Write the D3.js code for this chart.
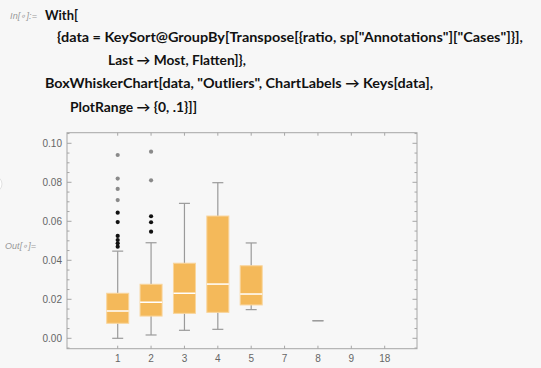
<!DOCTYPE html>
<html>
<head>
<meta charset="utf-8">
<script src="https://cdn.jsdelivr.net/npm/d3@7"></script>
<style>
  html, body { margin: 0; padding: 0; background: #f7f7f7; }
  svg { display: block; }
</style>
</head>
<body>
<div id="chart"></div>
<script>
// input cell text
const codeLines = [
    { text: 'With[', x: 45, y: 20, w: 33 },
    { text: '{data = KeySort@GroupBy[Transpose[{ratio, sp["Annotations"]["Cases"]}],', x: 57, y: 42, w: 466 },
    { text: 'Last \u2192 Most, Flatten]},', x: 108, y: 65, w: 138 },
    { text: 'BoxWhiskerChart[data, "Outliers", ChartLabels \u2192 Keys[data],', x: 45, y: 88, w: 388 },
    { text: 'PlotRange \u2192 {0, .1}]]', x: 70, y: 112, w: 127 }
]

// chart data
const categories = ['1', '2', '3', '4', '5', '7', '8', '9', '18']
const whiskerLow  = [0.0,    0.0017, 0.0041, 0.0046, 0.0147, null, 0.009, null, null]
const q1          = [0.0077, 0.0114, 0.0128, 0.0133, 0.0171, null, 0.009, null, null]
const medians     = [0.0140, 0.0185, 0.0231, 0.0278, 0.0227, null, 0.009, null, null]
const q3          = [0.0231, 0.0277, 0.0385, 0.0627, 0.0372, null, 0.009, null, null]
const whiskerHigh = [0.0447, 0.0490, 0.0692, 0.0798, 0.0489, null, 0.009, null, null]
const nearOutliers = [
    [0.0644, 0.0596, 0.0525, 0.0504, 0.0487, 0.0470],
    [0.0626, 0.0595, 0.0547],
    [], [], [], [], [], [], []
]
const farOutliers = [
    [0.0940, 0.0819, 0.0766, 0.0709],
    [0.0957, 0.0810],
    [], [], [], [], [], [], []
]
const yTicks = [0, 0.02, 0.04, 0.06, 0.08, 0.10]

const width = 541
const height = 368

// frame edges
const frame = { left: 67, right: 417, top: 132.7, bottom: 348.7 }

const boxWidth = 22
const capWidth = 11

const svg = d3.select('#chart')
    .append('svg')
        .attr('width', width)
        .attr('height', height)

svg.append('rect')
    .attr('width', width)
    .attr('height', height)
    .attr('fill', '#f7f7f7')

// cell labels
svg.append('text')
    .attr('x', 10).attr('y', 19)
    .attr('font-family', 'Liberation Sans, sans-serif')
    .attr('font-style', 'italic')
    .attr('font-size', 9)
    .attr('textLength', 27)
    .attr('fill', '#999')
    .text('In[\u2218]:=')

svg.append('text')
    .attr('x', 5).attr('y', 249)
    .attr('font-family', 'Liberation Sans, sans-serif')
    .attr('font-style', 'italic')
    .attr('font-size', 9)
    .attr('textLength', 31)
    .attr('fill', '#999')
    .text('Out[\u2218]=')

// little bubble sticking in from the left edge
svg.append('circle')
    .attr('cx', -6).attr('cy', 184).attr('r', 8)
    .attr('fill', '#fff')
    .attr('stroke', '#e2e2e2')

svg.append('g')
    .selectAll('text')
    .data(codeLines)
    .enter()
    .append('text')
        .attr('x', d => d.x)
        .attr('y', d => d.y)
        .attr('textLength', d => d.w)
        .attr('lengthAdjust', 'spacingAndGlyphs')
        .attr('font-family', 'Lato, Open Sans, sans-serif')
        .attr('font-weight', 'bold')
        .attr('font-size', 13.5)
        .attr('fill', '#111')
        .text(d => d.text)

// scales
const xScale = d3.scalePoint()
    .domain(categories)
    .range([117.7, 384.7])

const yScale = d3.scaleLinear()
    .domain([0, 0.1])
    .range([338.3, 143.3])

const g = svg.append('g')

// frame
g.append('rect')
    .attr('x', frame.left)
    .attr('y', frame.top)
    .attr('width', frame.right - frame.left)
    .attr('height', frame.bottom - frame.top)
    .attr('fill', 'none')
    .attr('stroke', '#a6a6a6')
    .attr('stroke-width', 1)

// y ticks, major + minor, on both sides
const minorTicks = d3.range(-0.005, 0.1051, 0.005).filter(v => Math.abs(Math.round(v * 1000) % 20) !== 0)

const tickLines = [
    ...yTicks.map(v => ({ v, len: 4.5 })),
    ...minorTicks.map(v => ({ v, len: 2.5 }))
]

g.selectAll('.ytick-left')
    .data(tickLines)
    .enter()
    .append('line')
        .attr('x1', frame.left)
        .attr('x2', d => frame.left + d.len)
        .attr('y1', d => yScale(d.v))
        .attr('y2', d => yScale(d.v))
        .attr('stroke', '#a6a6a6')

g.selectAll('.ytick-right')
    .data(tickLines)
    .enter()
    .append('line')
        .attr('x1', frame.right)
        .attr('x2', d => frame.right - d.len)
        .attr('y1', d => yScale(d.v))
        .attr('y2', d => yScale(d.v))
        .attr('stroke', '#a6a6a6')

g.selectAll('.ylabel')
    .data(yTicks)
    .enter()
    .append('text')
        .attr('x', frame.left - 5)
        .attr('y', d => yScale(d) + 3.5)
        .attr('text-anchor', 'end')
        .attr('font-family', 'Liberation Sans, sans-serif')
        .attr('font-size', 10)
        .attr('fill', '#666')
        .text(d => d3.format('.2f')(d))

// x ticks top and bottom
g.selectAll('.xtick-bottom')
    .data(categories)
    .enter()
    .append('line')
        .attr('x1', d => xScale(d))
        .attr('x2', d => xScale(d))
        .attr('y1', frame.bottom)
        .attr('y2', frame.bottom - 3)
        .attr('stroke', '#a6a6a6')

g.selectAll('.xtick-top')
    .data(categories)
    .enter()
    .append('line')
        .attr('x1', d => xScale(d))
        .attr('x2', d => xScale(d))
        .attr('y1', frame.top)
        .attr('y2', frame.top + 3)
        .attr('stroke', '#a6a6a6')

g.selectAll('.xlabel')
    .data(categories)
    .enter()
    .append('text')
        .attr('x', d => xScale(d))
        .attr('y', 362)
        .attr('text-anchor', 'middle')
        .attr('font-family', 'Liberation Sans, sans-serif')
        .attr('font-size', 10)
        .attr('fill', '#666')
        .text(d => d)

// boxes
const boxes = categories.map((c, i) => ({
    c,
    lo: whiskerLow[i], q1: q1[i], med: medians[i], q3: q3[i], hi: whiskerHigh[i],
    near: nearOutliers[i], far: farOutliers[i]
})).filter(d => d.lo !== null)

const boxG = g.selectAll('.box')
    .data(boxes)
    .enter()
    .append('g')
        .attr('class', 'box')

const whiskerColor = '#9a9a9a'

// whisker stems
boxG.append('line')
    .attr('x1', d => xScale(d.c)).attr('x2', d => xScale(d.c))
    .attr('y1', d => yScale(d.lo)).attr('y2', d => yScale(d.q1))
    .attr('stroke', whiskerColor).attr('stroke-width', 1.2)
boxG.append('line')
    .attr('x1', d => xScale(d.c)).attr('x2', d => xScale(d.c))
    .attr('y1', d => yScale(d.q3)).attr('y2', d => yScale(d.hi))
    .attr('stroke', whiskerColor).attr('stroke-width', 1.2)

// caps
boxG.append('line')
    .attr('x1', d => xScale(d.c) - capWidth / 2).attr('x2', d => xScale(d.c) + capWidth / 2)
    .attr('y1', d => yScale(d.lo)).attr('y2', d => yScale(d.lo))
    .attr('stroke', whiskerColor).attr('stroke-width', 1.2)
boxG.append('line')
    .attr('x1', d => xScale(d.c) - capWidth / 2).attr('x2', d => xScale(d.c) + capWidth / 2)
    .attr('y1', d => yScale(d.hi)).attr('y2', d => yScale(d.hi))
    .attr('stroke', whiskerColor).attr('stroke-width', 1.2)

// box body
boxG.filter(d => d.q3 > d.q1)
    .append('rect')
        .attr('x', d => xScale(d.c) - boxWidth / 2)
        .attr('y', d => yScale(d.q3))
        .attr('width', boxWidth)
        .attr('height', d => yScale(d.q1) - yScale(d.q3))
        .attr('fill', '#f4b95a')
        .attr('stroke', '#f9d59c')
        .attr('stroke-width', 1)

// median
boxG.filter(d => d.q3 > d.q1)
    .append('line')
        .attr('x1', d => xScale(d.c) - boxWidth / 2).attr('x2', d => xScale(d.c) + boxWidth / 2)
        .attr('y1', d => yScale(d.med)).attr('y2', d => yScale(d.med))
        .attr('stroke', '#fff').attr('stroke-width', 1.5)

// outliers
boxG.selectAll('.near')
    .data(d => d.near.map(v => ({ c: d.c, v })))
    .enter()
    .append('circle')
        .attr('cx', d => xScale(d.c))
        .attr('cy', d => yScale(d.v))
        .attr('r', 2.1)
        .attr('fill', '#111')

boxG.selectAll('.far')
    .data(d => d.far.map(v => ({ c: d.c, v })))
    .enter()
    .append('circle')
        .attr('cx', d => xScale(d.c))
        .attr('cy', d => yScale(d.v))
        .attr('r', 2.1)
        .attr('fill', '#8a8a8a')
</script>
</body>
</html>
